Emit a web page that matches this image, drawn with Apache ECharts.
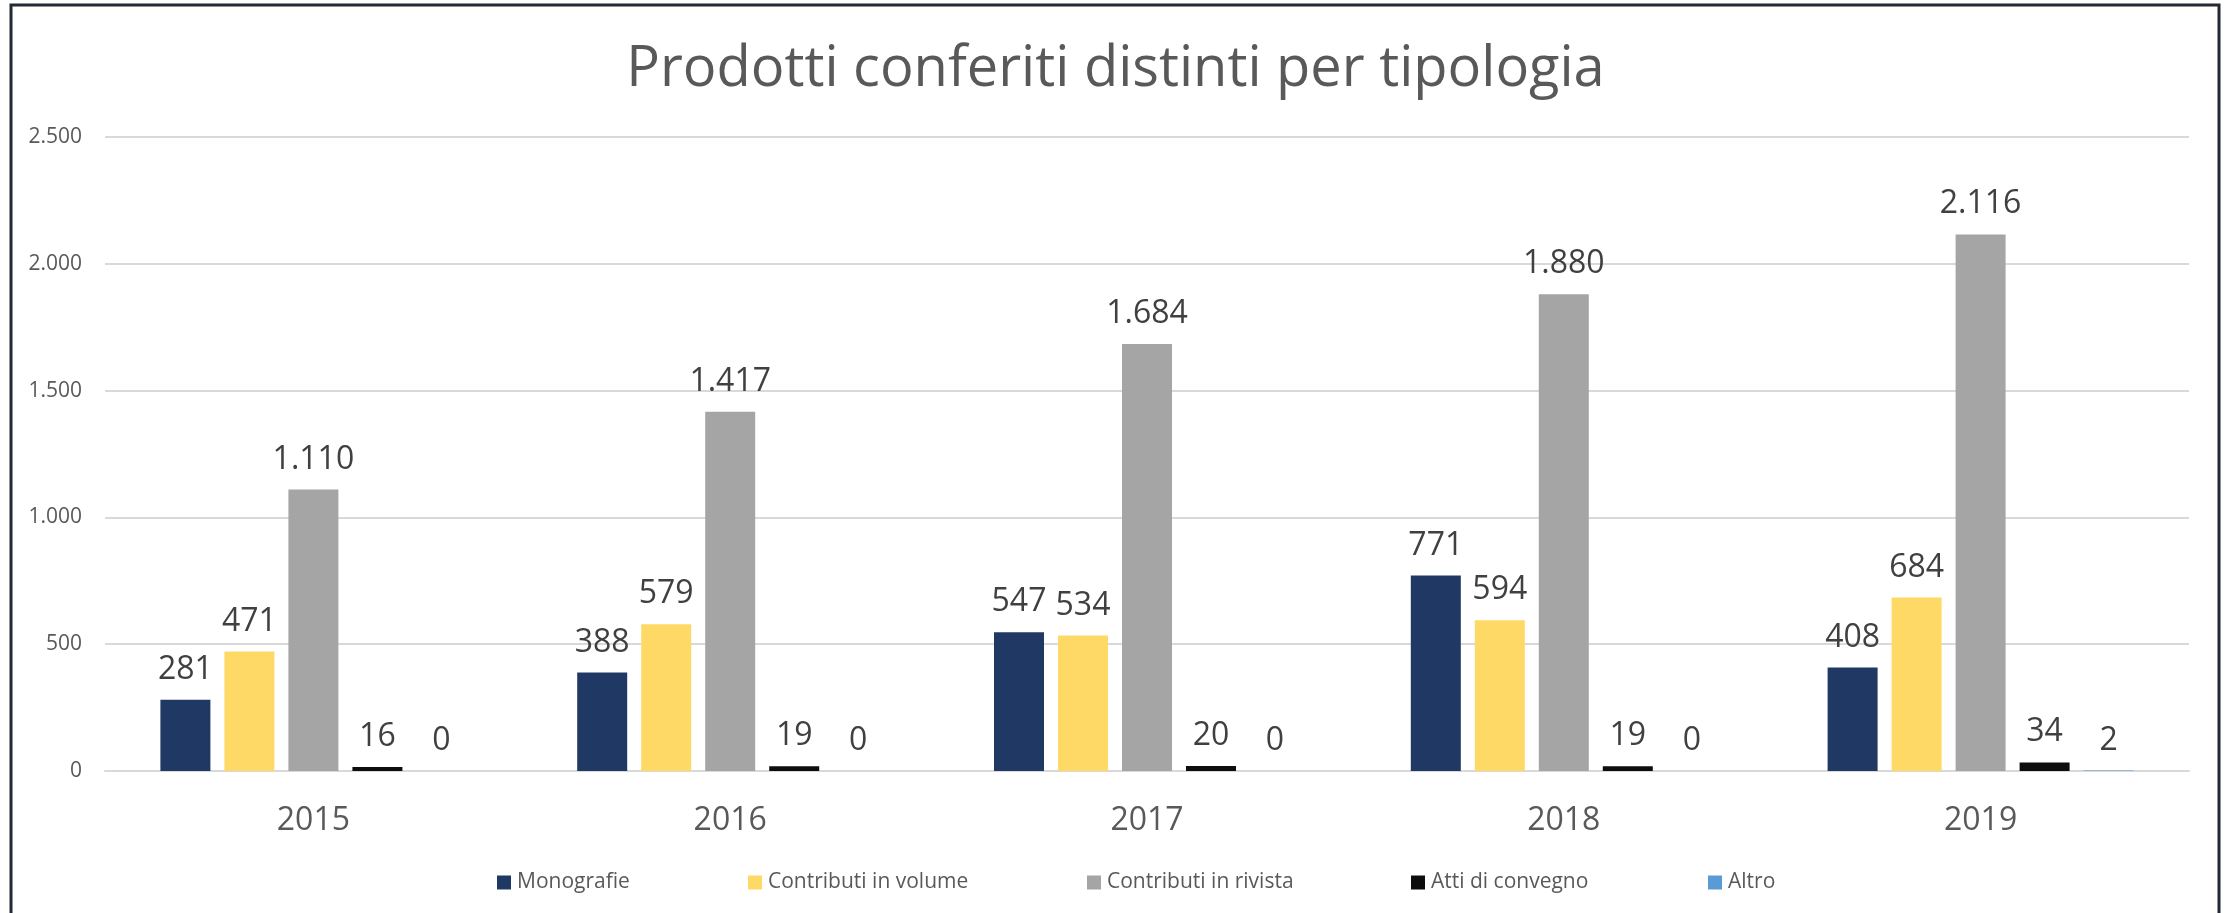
<!DOCTYPE html>
<html>
<head>
<meta charset="utf-8">
<title>Prodotti conferiti distinti per tipologia</title>
<script src="https://cdn.jsdelivr.net/npm/echarts@6.0.0/dist/echarts.min.js"></script>
<style>
    html, body { margin: 0; padding: 0; background: #fff; }
    #main { width: 2231px; height: 913px; }
</style>
</head>
<body>
<div id="main"></div>
<script>
    // dati
    var anni = ['2015', '2016', '2017', '2018', '2019'];
    var nomiSerie = ['Monografie', 'Contributi in volume', 'Contributi in rivista', 'Atti di convegno', 'Altro'];
    var monografie = [281, 388, 547, 771, 408];
    var contributiVolume = [471, 579, 534, 594, 684];
    var contributiRivista = [1110, 1417, 1684, 1880, 2116];
    var attiConvegno = [16, 19, 20, 19, 34];
    var altro = [0, 0, 0, 0, 2];

    var valoriSerie = [monografie, contributiVolume, contributiRivista, attiConvegno, altro];
    var colori = ['#203864', '#FFD966', '#A5A5A5', '#0D0D0D', '#5B9BD5'];
    var font = '"Open Sans", "Noto Sans", sans-serif';

    // separatore delle migliaia all'italiana
    function formatta(v) {
        return String(v).replace(/\B(?=(\d{3})+(?!\d))/g, '.');
    }

    let chartDom = document.getElementById('main');
    let myChart = echarts.init(chartDom);

    // posizione orizzontale di ogni voce di legenda
    let legendaLeft = [492, 743, 1082, 1406, 1703];
    let legende = nomiSerie.map(function (nome, i) {
        return {
            data: [nome],
            left: legendaLeft[i],
            top: 867,
            icon: 'rect',
            itemWidth: 14,
            itemHeight: 14,
            textStyle: {
                color: '#595959',
                fontSize: 21,
                fontFamily: font,
                padding: [0, 0, 0, 1]
            }
        };
    });

    let serie = nomiSerie.map(function (nome, i) {
        return {
            name: nome,
            type: 'bar',
            data: valoriSerie[i],
            barWidth: 50,
            barGap: '28%',
            itemStyle: { color: colori[i] },
            label: {
                show: true,
                position: 'top',
                distance: 14,
                color: '#404040',
                fontSize: 32,
                fontFamily: font,
                formatter: function (p) {
                    return formatta(p.value);
                }
            }
        };
    });

    let option = {
        animation: false,
        backgroundColor: '#fff',
        title: {
            text: 'Prodotti conferiti distinti per tipologia',
            left: 'center',
            top: 37,
            textStyle: {
                color: '#595959',
                fontSize: 56,
                fontWeight: 'normal',
                fontFamily: font
            }
        },
        legend: legende,
        grid: {
            left: 105,
            right: 42,
            top: 137,
            bottom: 142,
            containLabel: false
        },
        xAxis: {
            type: 'category',
            data: anni,
            axisLine: { lineStyle: { color: '#D9D9D9', width: 2 } },
            axisTick: { show: false },
            axisLabel: {
                color: '#595959',
                fontSize: 32,
                fontFamily: font,
                margin: 34
            }
        },
        yAxis: {
            type: 'value',
            min: 0,
            max: 2500,
            interval: 500,
            axisLine: { show: false },
            axisTick: { show: false },
            splitLine: { lineStyle: { color: '#D9D9D9', width: 2 } },
            axisLabel: {
                color: '#595959',
                fontSize: 21,
                fontFamily: font,
                margin: 23,
                formatter: formatta
            }
        },
        series: serie,
        graphic: [
            {
                type: 'rect',
                shape: { x: 11, y: 5, width: 2208, height: 1000 },
                style: { fill: 'none', stroke: '#222A35', lineWidth: 3 },
                silent: true
            }
        ]
    };

    myChart.setOption(option);
</script>
</body>
</html>
